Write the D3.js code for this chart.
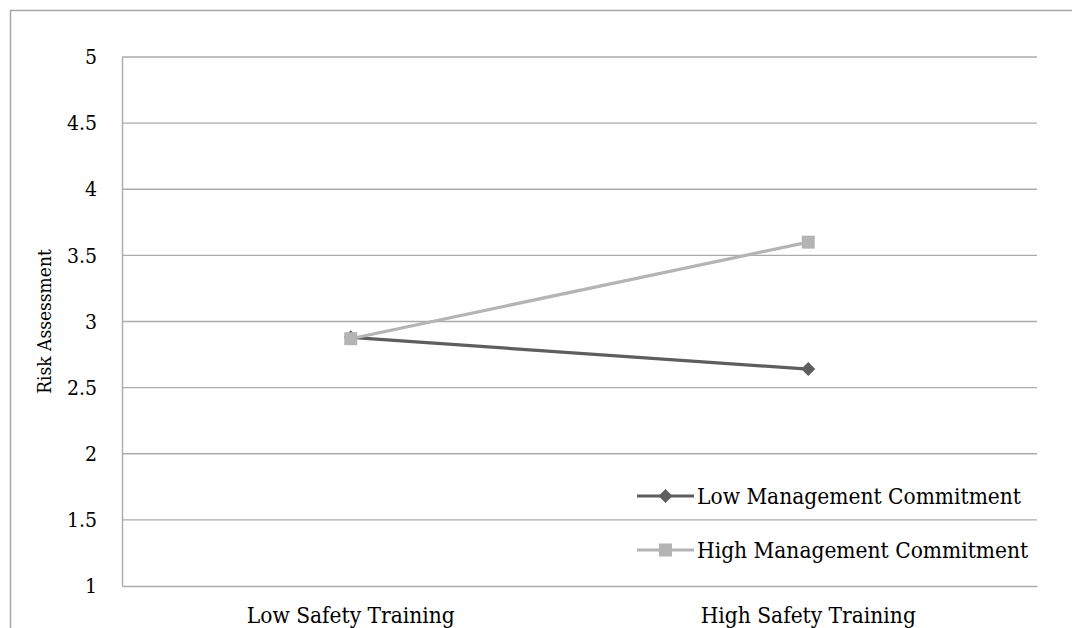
<!DOCTYPE html>
<html>
<head>
<meta charset="utf-8">
<script src="https://cdn.jsdelivr.net/npm/d3@7"></script>
<style>
  html, body { margin: 0; padding: 0; background: #fff; }
  svg { display: block; }
  text { font-family: "DejaVu Serif Condensed", "DejaVu Serif", serif; font-stretch: condensed; fill: #000; }
</style>
</head>
<body>
<svg id="chart" width="1072" height="628"></svg>
<script>
// Risk assessment by safety training, split by management commitment
const categories = ["Low Safety Training", "High Safety Training"];
const seriesNames = ["Low Management Commitment", "High Management Commitment"];
const lowCommitment = [2.88, 2.64];
const highCommitment = [2.87, 3.60];
const yTicks = [1, 1.5, 2, 2.5, 3, 3.5, 4, 4.5, 5];
const yTitle = "Risk Assessment";

const margin = { left: 122, right: 1037, top: 57, bottom: 586 };
const tickSize = "21px";
const labelSize = "22.5px";
const svg = d3.select("#chart");

// outer chart frame (runs off the right and bottom edges)
svg.append("rect")
  .attr("x", 10.5).attr("y", 10.5)
  .attr("width", 1100).attr("height", 700)
  .attr("fill", "none").attr("stroke", "#a6a6a6").attr("stroke-width", 1.5);

const x = d3.scaleBand().domain(categories).range([margin.left, margin.right]);
const y = d3.scaleLinear().domain([1, 5]).range([margin.bottom, margin.top]);

// horizontal gridlines
svg.append("g").selectAll("line").data(yTicks.filter(t => t > 1)).join("line")
  .attr("x1", margin.left).attr("x2", margin.right)
  .attr("y1", d => y(d)).attr("y2", d => y(d))
  .attr("stroke", "#ababab").attr("stroke-width", 1.4);

// y axis
const yAxis = svg.append("g")
  .attr("transform", `translate(${margin.left},0)`)
  .call(d3.axisLeft(y).tickValues(yTicks).tickSize(0).tickPadding(25).tickFormat(d3.format("")));
yAxis.select(".domain").attr("stroke", "#ababab").attr("stroke-width", 1.4);
yAxis.selectAll("text").style("font-size", tickSize).attr("font-family", null);

// x axis
const xAxis = svg.append("g")
  .attr("transform", `translate(0,${margin.bottom})`)
  .call(d3.axisBottom(x).tickSize(0).tickPadding(21));
xAxis.select(".domain").attr("stroke", "#ababab").attr("stroke-width", 1.4);
xAxis.selectAll("text").style("font-size", labelSize).attr("font-family", null);

// y axis title
svg.append("text")
  .attr("transform", `translate(51,${(margin.top + margin.bottom) / 2}) rotate(-90)`)
  .attr("text-anchor", "middle")
  .style("font-size", "19px")
  .text(yTitle);

const series = [
  { name: seriesNames[0], values: lowCommitment, color: "#5e5e5e", shape: "diamond" },
  { name: seriesNames[1], values: highCommitment, color: "#b4b4b4", shape: "square" }
];

const line = d3.line()
  .x((d, i) => x(categories[i]) + x.bandwidth() / 2)
  .y(d => y(d));

function marker(g, shape, color) {
  if (shape === "diamond") {
    g.append("path").attr("d", "M0,-7L7,0L0,7L-7,0Z").attr("fill", color);
  } else {
    g.append("rect").attr("x", -6.5).attr("y", -6.5).attr("width", 13).attr("height", 13).attr("fill", color);
  }
}

series.forEach(s => {
  svg.append("path").datum(s.values)
    .attr("d", line).attr("fill", "none")
    .attr("stroke", s.color).attr("stroke-width", 3.2);
  s.values.forEach((v, i) => {
    const g = svg.append("g")
      .attr("transform", `translate(${x(categories[i]) + x.bandwidth() / 2},${y(v)})`);
    marker(g, s.shape, s.color);
  });
});

// legend
const legendY = [496, 550];
series.forEach((s, i) => {
  const g = svg.append("g").attr("transform", `translate(637,${legendY[i]})`);
  g.append("line").attr("x1", 0).attr("x2", 57).attr("y1", 0).attr("y2", 0)
    .attr("stroke", s.color).attr("stroke-width", 3.2);
  const m = g.append("g").attr("transform", "translate(28.5,0)");
  marker(m, s.shape, s.color);
  g.append("text").attr("x", 60).attr("y", 0).attr("dy", "0.35em")
    .style("font-size", labelSize).text(s.name);
});
</script>
</body>
</html>
